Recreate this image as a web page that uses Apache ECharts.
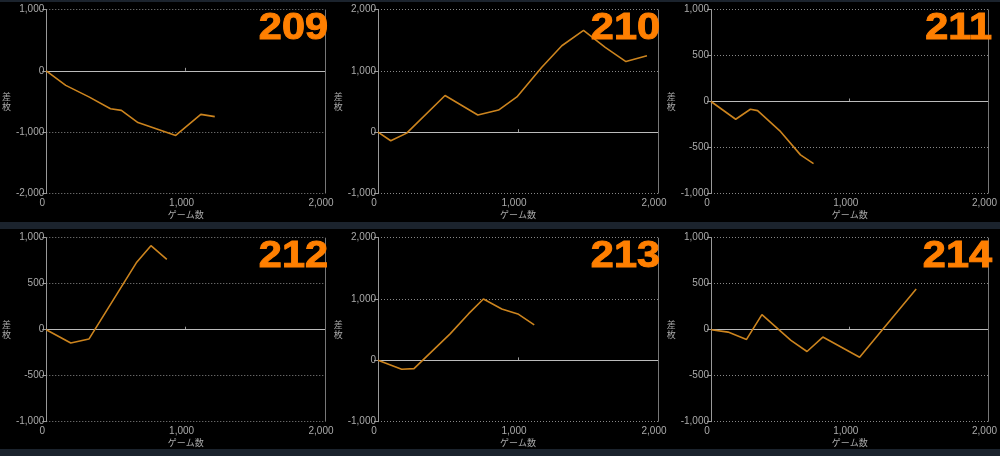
<!DOCTYPE html>
<html><head><meta charset="utf-8">
<script src="https://cdn.jsdelivr.net/npm/echarts@6/dist/echarts.min.js"></script>
<style>html,body{margin:0;padding:0;background:#000;}#c{width:1000px;height:456px;}</style>
</head><body><div id="c"></div>
<script>
// Panel titles (machine numbers)
const titles = ['209','210','211','212','213','214'];
// Games (x) and difference in medals (y) per machine
const g209 = [0,140,306,461,539,658,929,1109,1209];
const v209 = [0,-237,-425,-618,-645,-844,-1054,-710,-747];
const g210 = [0,91,205,479,713,861,992,1170,1313,1468,1623,1771,1921];
const v210 = [0,-140,-16,597,280,360,575,1059,1409,1661,1382,1151,1247];
const g211 = [0,178,284,336,502,645,739];
const v211 = [0,-193,-84,-99,-328,-580,-675];
const g212 = [0,176,306,646,751,865];
const v212 = [0,-145,-102,727,913,764];
const g213 = [0,169,257,515,646,753,884,999,1116];
const v213 = [0,-146,-135,432,757,1000,838,757,578];
const g214 = [0,123,256,367,576,692,806,1071,1479];
const v214 = [0,-26,-106,164,-117,-237,-80,-299,442];
// Y axis ranges [min, max, interval]
const yr209 = [-2000,1000,1000];
const yr210 = [-1000,2000,1000];
const yr211 = [-1000,1000,500];
const yr212 = [-1000,1000,500];
const yr213 = [-1000,2000,1000];
const yr214 = [-1000,1000,500];
// X axis ticks
const xTicks = [0,1000,2000];

const games = [g209,g210,g211,g212,g213,g214];
const vals = [v209,v210,v211,v212,v213,v214];
const yRanges = [yr209,yr210,yr211,yr212,yr213,yr214];

const colLeft = [44, 378, 711];
const colW = [281, 280, 281];
const rowTop = [9.5, 237.7];
const plotH = 184;
const titleRight = [328, 660, 992];
const titleMid = [28.5, 256.5];

const fmt = v => { const s = Math.abs(v).toString().replace(/\B(?=(\d{3})+(?!\d))/g, ','); return (v < 0 ? '-' : '') + s; };
const labelFont = {color:'#aaa', fontSize:10, fontFamily:'"Liberation Sans", sans-serif'};
const nameFont = {color:'#aaa', fontSize:9, fontFamily:'"Noto Sans CJK JP", sans-serif', lineHeight:10};

const grids = [], xAxes = [], yAxes = [], series = [], graphics = [];
for (let i = 0; i < 6; i++) {
  const r = Math.floor(i/3), c = i % 3;
  grids.push({left: colLeft[c], top: rowTop[r], width: colW[c], height: plotH, containLabel:false});
  xAxes.push({
    type:'value', gridIndex:i, min:xTicks[0], max:xTicks[xTicks.length-1], interval:1000,
    name:'ゲーム数', nameLocation:'middle', nameGap:16, nameTextStyle:nameFont,
    axisLine:{show:false},
    axisTick:{show:true, inside:true, length:3, lineStyle:{color:'#999'}},
    splitLine:{show:false},
    axisLabel:Object.assign({margin:5, formatter:fmt, padding:[0,8,0,0]}, labelFont)
  });
  const yr = yRanges[i];
  yAxes.push({
    type:'value', gridIndex:i, min:yr[0], max:yr[1], interval:yr[2],
    name:'差\n枚', nameLocation:'middle', nameGap:28, nameRotate:0, nameTextStyle:nameFont,
    axisLine:{show:true, lineStyle:{color:'#999', width:1}},
    axisTick:{show:true, length:4, lineStyle:{color:'#999'}},
    splitLine:{show:true, lineStyle:{color:'#888', type:[1,2], width:1}},
    axisLabel:Object.assign({margin:2, formatter:fmt}, labelFont)
  });
  series.push({
    type:'line', xAxisIndex:i, yAxisIndex:i, showSymbol:false, symbol:'none',
    data: games[i].map((g,k)=>[g, vals[i][k]]),
    lineStyle:{color:'#cc841e', width:1.6}, animation:false, z:5,
    markLine:{silent:true, symbol:'none', animation:false, label:{show:false},
      data:[{yAxis:0, lineStyle:{color:'#bbb', type:'solid', width:1}},
            {xAxis:2000, lineStyle:{color:'#777', type:'solid', width:1}}]}
  });
  graphics.push({type:'text', x: titleRight[c], y: titleMid[r], scaleX:1.12, originX:0, originY:0,
    style:{text:titles[i], fill:'#ff7f00', stroke:'#ff7f00', lineWidth:1,
      textAlign:'right', textVerticalAlign:'middle',
      font:'bold 37px "Liberation Sans", Arial, sans-serif'}, z:100});
}
graphics.push({type:'rect', left:0, top:0, shape:{width:1000, height:2}, style:{fill:'#1b232d'}, z:50});
graphics.push({type:'rect', left:0, top:222, shape:{width:1000, height:7}, style:{fill:'#1b232d'}, z:50});
graphics.push({type:'rect', left:0, top:449, shape:{width:1000, height:7}, style:{fill:'#1b232d'}, z:50});

const chart = echarts.init(document.getElementById('c'), null, {renderer:'canvas'});
chart.setOption({backgroundColor:'#000', animation:false, grid:grids, xAxis:xAxes, yAxis:yAxes, series:series, graphic:graphics});
</script></body></html>
